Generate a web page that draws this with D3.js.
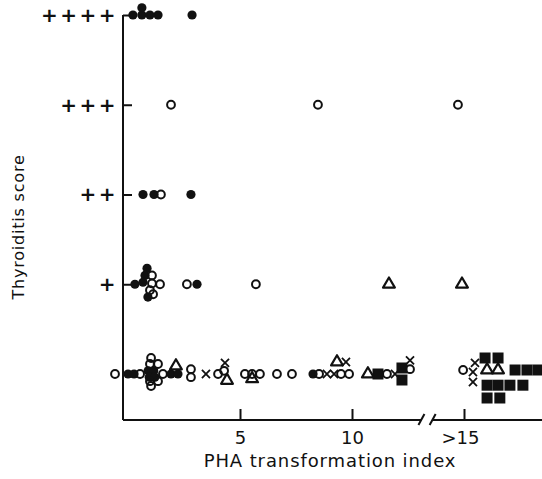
<!DOCTYPE html>
<html>
<head>
<meta charset="utf-8">
<script src="https://cdn.jsdelivr.net/npm/d3@7"></script>
<style>
  body { margin: 0; background: #fff; }
  text { font-family: "DejaVu Sans", sans-serif; fill: #111; }
</style>
</head>
<body>
<div id="chartid"></div>
<script>
/***** data: [PHA index, thyroiditis score, stack row] *****/
var filledCircles = [
  [0.22,4,0],[0.62,4,0],[0.98,4,0],[1.34,4,0],[0.62,4,0.9],[2.86,4,0],
  [0.67,2,0],[1.16,2,0],[2.81,2,0],
  [0.31,1,0],[0.85,1,2],[0.76,1,1.1],[0.67,1,0.25],[0.89,1,-1.6],[3.08,1,0],
  [0,0,0],[0.27,0,0],[0.9,0,0.4],[1.15,0,0.4],[0.95,0,-0.4],[1.2,0,-0.4],[1.92,0,0],[2.23,0,0],[8.26,0,0]
];
var openCircles = [
  [1.92,3,0],[8.48,3,0],[14.73,3,0],
  [1.47,2,0],
  [1.07,1,1.1],[1.07,1,0.1],[1.43,1,0],[0.98,1,-0.75],[1.12,1,-1.25],[2.63,1,0],[5.71,1,0],
  [-0.58,0,0],[0.54,0,0],[1.03,0,2],[0.98,0,1.25],[1.34,0,1.25],[0.98,0,-0.9],[1.34,0,-0.9],
  [1.03,0,-1.5],[1.56,0,0],[2.81,0,0.6],[2.81,0,-0.4],[4.02,0,0],[4.29,0,0.4],[5.22,0,0],
  [5.54,0,0],[5.89,0,0],[6.65,0,0],[7.32,0,0],[8.53,0,0],[9.51,0,0],[9.87,0,0],[11.56,0,0],
  [12.59,0,0.6],[14.96,0,0.5]
];
var triangles = [
  [11.65,1,0],[14.91,1,0],
  [2.14,0,1],[4.42,0,-0.8],[5.54,0,-0.6],[9.33,0,1.5],[10.71,0,0],[16.03,0,0.5],[16.52,0,0.5]
];
var crosses = [
  [3.48,0,0],[4.33,0,1.4],[8.88,0,0],[9.2,0,0],[9.73,0,1.5],[11.92,0,0],[12.59,0,1.7],
  [15.49,0,1.4],[15.4,0,0.25],[15.4,0,-1]
];
var squares = [
  [11.16,0,0],[12.23,0,0.75],[12.23,0,-0.75],
  [15.94,0,2],[16.52,0,2],[17.28,0,0.5],[17.81,0,0.5],[18.3,0,0.5],
  [16.03,0,-1.4],[16.52,0,-1.4],[17.05,0,-1.4],[17.63,0,-1.4],[16.03,0,-3],[16.6,0,-3]
];

var scoreLabels = ["", "+", "++", "+++", "++++"];
var phaTicks = [5, 10, 15];
var phaTickLabels = ["5", "10", ">15"];
var axisBreak = [13.1, 13.6];

//chart parameters
var width = 542;
var height = 479;
var axisX = 123;
var axisY = 420;
var stackUnit = 8;

var svg = d3.select("div#chartid")
  .append("svg")
  .attr("width", width)
  .attr("height", height)
;

//scales
var x = d3.scaleLinear()
  .domain([5, 10])
  .range([240, 352])
;
var y = d3.scaleLinear()
  .domain([0, 4])
  .range([374, 15])
;

var px = function(d){ return x(d[0]); };
var py = function(d){ return y(d[1]) - d[2] * stackUnit; };

//axes
var yAxis = d3.axisLeft()
  .scale(y)
  .tickValues([0, 1, 2, 3, 4])
  .tickFormat(function(d){ return scoreLabels[d]; })
  .tickSizeInner(-9)
  .tickSizeOuter(0)
  .tickPadding(5)
;
var xAxis = d3.axisBottom()
  .scale(x)
  .tickValues(phaTicks)
  .tickFormat(function(d, i){ return phaTickLabels[i]; })
  .tickSizeInner(-11)
  .tickSizeOuter(0)
  .tickPadding(11)
;

var gy = svg.append("g")
  .attr("transform", "translate(" + axisX + ",0)")
  .call(yAxis);
gy.select(".domain").remove();
gy.selectAll(".tick line").attr("stroke", "#111").attr("stroke-width", 2);
gy.selectAll(".tick text")
  .attr("font-size", 20)
  .attr("font-weight", "bold")
  .attr("letter-spacing", 2.5)
  .attr("font-family", "DejaVu Sans");

var gx = svg.append("g")
  .attr("transform", "translate(0," + axisY + ")")
  .call(xAxis);
gx.select(".domain").remove();
gx.selectAll(".tick line").attr("stroke", "#111").attr("stroke-width", 2);
gx.selectAll(".tick text")
  .attr("font-size", 18)
  .attr("font-family", "DejaVu Sans")
  .attr("dx", function(d){ return d === 15 ? -4 : 0; });

//axis lines, x axis broken between the two segments
var axisLines = [
  [axisX, y(4), axisX, axisY],
  [axisX, axisY, x(axisBreak[0]), axisY],
  [x(axisBreak[1]), axisY, width, axisY]
];
svg.append("g")
  .selectAll("line")
  .data(axisLines)
  .join("line")
  .attr("x1", function(d){ return d[0]; })
  .attr("y1", function(d){ return d[1]; })
  .attr("x2", function(d){ return d[2]; })
  .attr("y2", function(d){ return d[3]; })
  .attr("stroke", "#111")
  .attr("stroke-width", 2)
;

//break marks //
svg.append("g")
  .selectAll("line")
  .data(axisBreak)
  .join("line")
  .attr("x1", function(d){ return x(d) - 3; })
  .attr("y1", axisY + 5)
  .attr("x2", function(d){ return x(d) + 3; })
  .attr("y2", axisY - 6)
  .attr("stroke", "#111")
  .attr("stroke-width", 2)
;

//axis titles
svg.append("text")
  .attr("x", 330)
  .attr("y", 467)
  .attr("text-anchor", "middle")
  .attr("font-size", 18)
  .attr("letter-spacing", 0.9)
  .text("PHA transformation index");

svg.append("text")
  .attr("transform", "translate(24,227) rotate(-90)")
  .attr("text-anchor", "middle")
  .attr("font-size", 16)
  .attr("letter-spacing", 0.8)
  .text("Thyroiditis score");

//marks
var marks = svg.append("g");

marks.selectAll("path.square")
  .data(squares)
  .join("path")
  .attr("class", "square")
  .attr("transform", function(d){ return "translate(" + px(d) + "," + py(d) + ")"; })
  .attr("d", d3.symbol(d3.symbolSquare, 121))
  .attr("fill", "#111");

marks.selectAll("circle.filled")
  .data(filledCircles)
  .join("circle")
  .attr("class", "filled")
  .attr("cx", px)
  .attr("cy", py)
  .attr("r", 4.6)
  .attr("fill", "#111");

marks.selectAll("circle.open")
  .data(openCircles)
  .join("circle")
  .attr("class", "open")
  .attr("cx", px)
  .attr("cy", py)
  .attr("r", 3.9)
  .attr("fill", "none")
  .attr("stroke", "#111")
  .attr("stroke-width", 2);

marks.selectAll("path.triangle")
  .data(triangles)
  .join("path")
  .attr("class", "triangle")
  .attr("transform", function(d){ return "translate(" + px(d) + "," + py(d) + ")"; })
  .attr("d", d3.symbol(d3.symbolTriangle2, 100))
  .attr("fill", "none")
  .attr("stroke", "#111")
  .attr("stroke-width", 2.2)
  .attr("stroke-linejoin", "round");

marks.selectAll("path.cross")
  .data(crosses)
  .join("path")
  .attr("class", "cross")
  .attr("transform", function(d){ return "translate(" + px(d) + "," + py(d) + ")"; })
  .attr("d", d3.symbol(d3.symbolTimes, 44))
  .attr("fill", "none")
  .attr("stroke", "#111")
  .attr("stroke-width", 1.8);
</script>
</body>
</html>
